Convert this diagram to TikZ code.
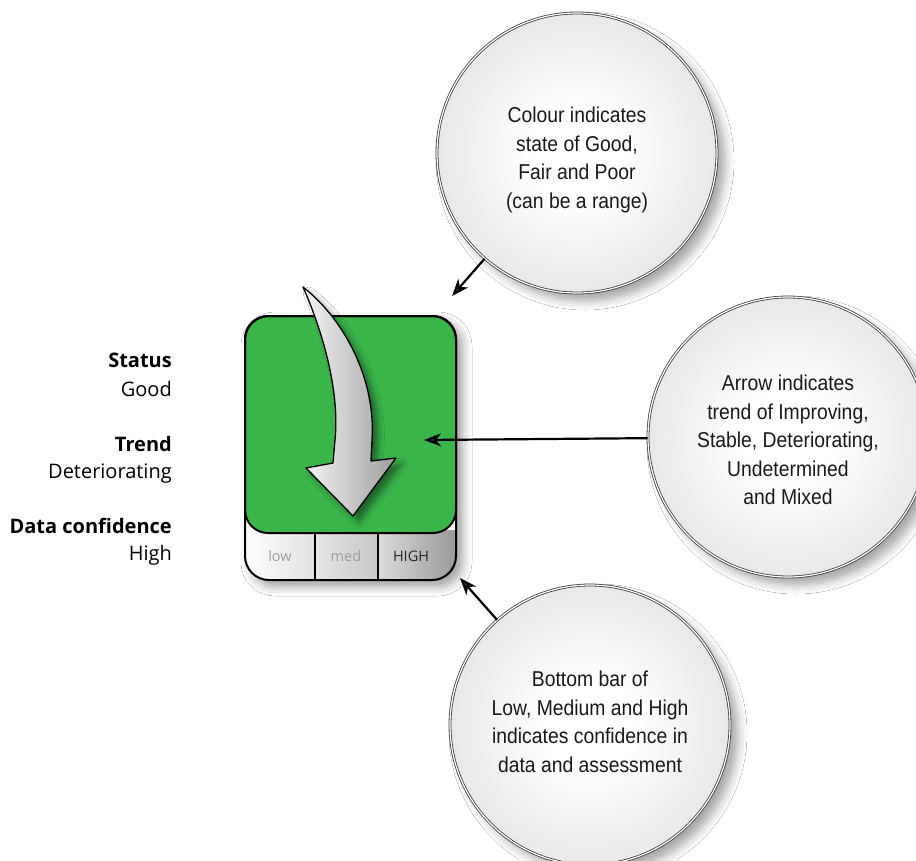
\documentclass[tikz,border=0pt]{standalone}
\usepackage{fontspec}
\setmainfont{Open Sans}
\newfontfamily\circfont[FakeStretch=0.9]{Liberation Sans}
\usetikzlibrary{arrows.meta,shadows.blur}
\definecolor{boxgreen}{HTML}{3AB54A}
\pgfdeclareradialshading{ballshade}{\pgfpoint{0bp}{0bp}}{color(0bp)=(white); color(8bp)=(white); color(50bp)=(black!22); color(100bp)=(black!22)}
\tikzset{
  circ/.style={circle, minimum size=280pt, inner sep=0pt, shading=ballshade,
    draw=black!75, double=white, double distance=1.2pt, line width=0.8pt,
    blur shadow={shadow xshift=8pt, shadow yshift=-8pt, shadow blur radius=9pt, shadow opacity=35}},
  circtext/.style={align=center, font=\circfont\fontsize{21.5}{28.6}\selectfont, text=black!90},
  lab/.style={anchor=base east, inner sep=0pt, font=\fontsize{20}{22}\selectfont},
  labb/.style={lab, font=\fontsize{20}{22}\selectfont\bfseries},
  conn/.style={line width=2.2pt, -{Stealth[length=17pt, width=13pt, inset=5pt]}},
  cell/.style={anchor=base, inner sep=0pt, font=\fontsize{14.5}{16}\selectfont},
}
\begin{document}
\begin{tikzpicture}[x=1pt, y=-1pt]
\clip (0,0) rectangle (916,860);
\fill[white] (0,0) rectangle (916,860);

% left labels
\node[labb] (status) at (172,367) {Status};
\node[lab] (good) at (172,396) {Good};
\node[labb] (trend) at (172,451) {Trend};
\node[lab] (det) at (172,478) {Deteriorating};
\node[labb] (dconf) at (172,533) {Data confidence};
\node[lab] (high) at (172,560) {High};

% indicator box
\path[fill=white, rounded corners=24pt, blur shadow={shadow xshift=6pt, shadow yshift=-6pt, shadow blur radius=10pt, shadow opacity=40}]
  (245,316) rectangle (456,580);
\begin{scope}
  \clip[rounded corners=24pt] (245,316) rectangle (456,580);
  \shade[left color=white, right color=black!12] (245,530) rectangle (315,580);
  \shade[left color=black!10, right color=black!22] (315,530) rectangle (378,580);
  \shade[left color=black!14, right color=black!40] (378,530) rectangle (456,580);
\end{scope}
\draw[line width=2pt] (315,533) -- (315,580) (378,533) -- (378,580);
\draw[line width=2pt, fill=boxgreen, rounded corners=23pt] (245,316) rectangle (456,533);
\draw[line width=2pt, rounded corners=24pt] (245,316) rectangle (456,580);
\node[cell, text=black!38] (low) at (280,561) {low};
\node[cell, text=black!38] (med) at (346,561) {med};
\node[cell, text=black!85] (hi) at (411,561) {HIGH};

% curved trend arrow
\path[draw=black, line width=1.3pt, line join=round, left color=black!4, right color=black!38,
  blur shadow={shadow xshift=6pt, shadow yshift=-6pt, shadow blur radius=6pt, shadow opacity=45}]
  (303,287) .. controls (322,330) and (340,390) .. (335,440) -- (333,463) -- (306,468)
  -- (353,516) -- (396,458) -- (371,461) -- (372,440)
  .. controls (376,380) and (345,320) .. cycle;

% circles
\node[circ] (c1) at (577,153) {};
\node[circtext] (c1t) at (577,160) {Colour indicates\\state of Good,\\Fair and Poor\\(can be a range)};
\node[circ] (c2) at (788,437) {};
\node[circtext] (c2t) at (788,440) {Arrow indicates\\trend of Improving,\\Stable, Deteriorating,\\Undetermined\\and Mixed};
\node[circ] (c3) at (590,725) {};
\node[circtext] (c3t) at (590,722) {Bottom bar of\\Low, Medium and High\\indicates confidence in\\data and assessment};

% connectors
\coordinate (t1) at (452,296);
\coordinate (t2) at (424,440);
\coordinate (t3) at (460,578);
\draw[conn] (c1) -- (t1);
\draw[conn] (c2) -- (t2);
\draw[conn] (c3) -- (t3);
\end{tikzpicture}
\end{document}
